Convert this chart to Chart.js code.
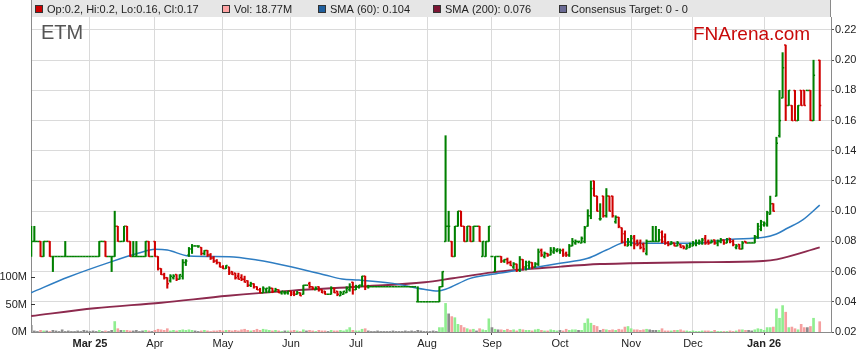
<!DOCTYPE html>
<html>
<head>
<meta charset="utf-8">
<script src="https://cdn.jsdelivr.net/npm/chart.js@4.4.1/dist/chart.umd.min.js"></script>
<style>
  html, body { margin: 0; padding: 0; background: #fff; }
  #wrap { width: 859px; height: 363px; position: relative; }
</style>
</head>
<body>
<div id="wrap"><canvas id="priceChart"></canvas></div>
<script>
// weekday index of the first bar (index 0 = first trading day of March 2025)
const firstDay = -19;

// [open, high, low, close] per weekday, null = no trading
const priceBars = [
  // -19
  [0.08,0.09,0.07,0.08],[0.08,0.09,0.08,0.08],[0.08,0.08,0.08,0.08],[0.08,0.08,0.07,0.07],[0.07,0.08,0.07,0.08],
  [0.08,0.08,0.08,0.08],[0.08,0.08,0.07,0.07],[0.07,0.07,0.06,0.07],[0.07,0.07,0.07,0.07],[0.07,0.07,0.07,0.07],
  // -9
  [0.07,0.07,0.07,0.07],[0.07,0.08,0.07,0.07],[0.07,0.07,0.07,0.07],[0.07,0.07,0.07,0.07],[0.07,0.07,0.07,0.07],
  [0.07,0.07,0.07,0.07],[0.07,0.07,0.07,0.07],[0.07,0.07,0.07,0.07],[0.07,0.07,0.07,0.07],[0.07,0.07,0.07,0.07],
  // 1
  [0.07,0.07,0.07,0.07],[0.07,0.07,0.07,0.07],[0.07,0.08,0.07,0.08],[0.08,0.08,0.08,0.08],[0.08,0.08,0.07,0.07],
  [0.07,0.07,0.07,0.07],[0.07,0.07,0.06,0.07],[0.07,0.10,0.07,0.09],[0.09,0.09,0.08,0.08],[0.08,0.08,0.08,0.08],
  // 11
  [0.08,0.09,0.08,0.09],[0.09,0.09,0.08,0.08],[0.08,0.08,0.07,0.07],[0.07,0.08,0.07,0.07],[0.07,0.08,0.07,0.07],
  [0.07,0.07,0.07,0.07],[0.07,0.07,0.07,0.07],[0.07,0.08,0.07,0.08],[0.08,0.08,0.07,0.07],[0.07,0.07,0.07,0.07],
  // 21 (Apr)
  [0.08,0.08,0.07,0.07],[0.07,0.07,0.061,0.062],[0.062,0.062,0.058,0.058],[0.058,0.059,0.055,0.056],[0.056,0.056,0.049,0.052],
  [0.054,0.058,0.053,0.057],[0.056,0.058,0.055,0.057],[0.058,0.058,0.054,0.055],[0.055,0.058,0.055,0.058],[0.057,0.068,0.055,0.066],
  // 31
  [0.066,0.068,0.064,0.067],[0.071,0.076,0.07,0.075],[0.075,0.078,0.072,0.077],[0.077,0.077,0.077,0.077],[0.077,0.077,0.076,0.077],
  [0.076,0.076,0.071,0.072],[0.072,0.074,0.071,0.074],[0.074,0.074,0.07,0.071],[0.071,0.072,0.068,0.069],[0.069,0.07,0.066,0.067],
  // 41
  [0.067,0.068,0.065,0.066],[0.066,0.066,0.063,0.063],[0.063,0.064,0.062,0.062],[0.062,0.064,0.062,0.064],[0.063,0.063,0.058,0.059],
  [0.06,0.06,0.058,0.058],[0.059,0.059,0.055,0.056],[0.057,0.059,0.055,0.055],[0.056,0.058,0.054,0.055],[0.055,0.057,0.053,0.053],
  // 51
  [0.054,0.054,0.05,0.051],[0.051,0.053,0.05,0.052],[0.052,0.052,0.049,0.05],[0.05,0.05,0.048,0.048],[0.048,0.049,0.046,0.046],
  [0.046,0.05,0.046,0.049],[0.048,0.049,0.046,0.049],[0.047,0.05,0.046,0.049],[0.049,0.049,0.046,0.047],[0.047,0.049,0.047,0.048],
  // 61
  [0.048,0.048,0.046,0.046],[0.046,0.047,0.045,0.047],[0.046,0.047,0.045,0.046],[0.046,0.047,0.045,0.047],[0.047,0.047,0.044,0.045],
  [0.046,0.047,0.044,0.045],[0.045,0.047,0.045,0.046],[0.046,0.046,0.044,0.044],[0.045,0.051,0.045,0.051],[0.051,0.051,0.051,0.051],
  // 71
  [0.052,0.053,0.049,0.05],[0.05,0.05,0.048,0.049],[0.048,0.05,0.048,0.049],[0.05,0.05,0.047,0.048],[0.048,0.048,0.046,0.046],
  [0.047,0.047,0.045,0.045],[0.045,0.045,0.045,0.045],[0.045,0.05,0.045,0.049],[0.049,0.049,0.046,0.046],[0.047,0.047,0.044,0.045],
  // 81
  [0.044,0.047,0.044,0.046],[0.045,0.047,0.045,0.047],[0.046,0.05,0.046,0.049],[0.048,0.052,0.047,0.05],[0.053,0.053,0.045,0.048],
  [0.048,0.051,0.048,0.05],[0.05,0.051,0.049,0.051],[0.051,0.057,0.05,0.057],[0.057,0.057,0.048,0.05],[0.05,0.051,0.049,0.05],
  // 91
  [0.05,0.05,0.05,0.05],[0.05,0.05,0.05,0.05],[0.05,0.05,0.05,0.05],[0.05,0.05,0.05,0.05],[0.05,0.05,0.05,0.05],
  [0.05,0.05,0.05,0.05],[0.05,0.05,0.05,0.05],[0.05,0.05,0.05,0.05],[0.05,0.05,0.05,0.05],[0.05,0.05,0.05,0.05],
  // 101
  [0.05,0.05,0.05,0.05],[0.05,0.05,0.05,0.05],[0.05,0.05,0.05,0.05],[0.05,0.05,0.05,0.05],[0.05,0.05,0.05,0.05],
  [0.04,0.05,0.04,0.04],[0.04,0.04,0.04,0.04],[0.04,0.04,0.04,0.04],[0.04,0.04,0.04,0.04],[0.04,0.04,0.04,0.04],
  // 111
  [0.04,0.04,0.04,0.04],[0.04,0.04,0.04,0.04],[0.04,0.05,0.04,0.05],[0.05,0.06,0.05,0.06],[0.08,0.15,0.08,0.09],
  [0.09,0.10,0.08,0.09],[0.08,0.08,0.07,0.07],[0.07,0.09,0.07,0.09],[0.09,0.10,0.09,0.10],[0.10,0.10,0.09,0.09],
  // 121
  [0.09,0.09,0.08,0.08],[0.08,0.09,0.08,0.09],[0.09,0.09,0.08,0.08],[0.08,0.09,0.08,0.09],[0.09,0.09,0.09,0.09],
  [0.09,0.09,0.08,0.08],[0.07,0.08,0.07,0.08],[0.07,0.08,0.07,0.08],[0.08,0.09,0.08,0.09],[0.07,0.07,0.07,0.07],
  // 131
  [0.06,0.07,0.06,0.07],[0.07,0.07,0.07,0.07],[0.07,0.07,0.066,0.067],[0.067,0.068,0.066,0.068],[0.068,0.069,0.065,0.066],
  [0.066,0.067,0.064,0.064],[0.063,0.066,0.062,0.065],[0.065,0.065,0.06,0.061],[0.061,0.07,0.06,0.068],[0.068,0.068,0.061,0.063],
  // 141
  [0.063,0.067,0.061,0.066],[0.064,0.067,0.062,0.066],[0.066,0.066,0.062,0.063],[0.063,0.066,0.063,0.065],[0.065,0.075,0.064,0.073],
  [0.074,0.075,0.07,0.071],[0.07,0.073,0.069,0.072],[0.072,0.072,0.07,0.071],[0.071,0.076,0.071,0.074],[0.073,0.076,0.072,0.075],
  // 151
  [0.074,0.075,0.073,0.075],[0.074,0.075,0.072,0.074],[0.074,0.075,0.07,0.071],[0.072,0.073,0.07,0.071],[0.071,0.078,0.07,0.077],
  [0.077,0.082,0.077,0.08],[0.079,0.081,0.078,0.08],[0.08,0.08,0.079,0.08],[0.079,0.083,0.079,0.082],[0.08,0.09,0.079,0.089],
  // 161
  [0.09,0.101,0.09,0.097],[0.097,0.12,0.095,0.115],[0.12,0.12,0.11,0.11],[0.11,0.11,0.10,0.10],[0.095,0.105,0.094,0.095],
  [0.11,0.11,0.096,0.097],[0.097,0.115,0.096,0.11],[0.11,0.11,0.10,0.10],[0.11,0.11,0.096,0.097],[0.093,0.097,0.092,0.096],
  // 171
  [0.096,0.096,0.089,0.09],[0.089,0.089,0.079,0.08],[0.085,0.087,0.077,0.078],[0.077,0.082,0.077,0.08],[0.078,0.084,0.077,0.082],
  [0.083,0.084,0.075,0.078],[0.08,0.081,0.077,0.078],[0.079,0.081,0.075,0.076],[0.078,0.079,0.073,0.075],[0.072,0.081,0.071,0.08],
  // 181
  [0.08,0.08,0.08,0.08],[0.08,0.09,0.08,0.08],[0.08,0.09,0.08,0.08],[0.08,0.088,0.08,0.081],[0.086,0.087,0.079,0.08],
  [0.083,0.085,0.078,0.079],[0.079,0.08,0.077,0.078],[0.078,0.08,0.078,0.079],[0.079,0.079,0.077,0.077],[0.077,0.08,0.077,0.079],
  // 191
  [0.078,0.078,0.076,0.076],[0.077,0.077,0.075,0.076],[0.075,0.078,0.075,0.077],[0.076,0.079,0.076,0.078],[0.077,0.08,0.077,0.079],
  [0.078,0.081,0.077,0.079],[0.079,0.081,0.078,0.08],[0.079,0.082,0.078,0.081],[0.082,0.084,0.078,0.079],[0.08,0.081,0.078,0.079],
  // 201
  [0.079,0.081,0.079,0.08],[0.081,0.081,0.078,0.079],[0.079,0.081,0.077,0.08],[0.08,0.082,0.079,0.081],[0.081,0.081,0.078,0.079],
  [0.079,0.082,0.079,0.081],[0.082,0.082,0.079,0.08],[0.08,0.081,0.077,0.078],[0.076,0.078,0.075,0.077],[0.078,0.078,0.075,0.075],
  // 211
  [0.075,0.08,0.075,0.079],[0.08,0.08,0.079,0.079],[0.079,0.079,0.079,0.079],[0.079,0.079,0.079,0.079],[0.079,0.084,0.079,0.083],
  [0.083,0.092,0.082,0.09],[0.088,0.094,0.087,0.093],[0.091,0.093,0.09,0.092],[0.091,0.10,0.09,0.099],[0.098,0.11,0.098,0.105],
  // 221
  [0.105,0.105,0.10,0.10],[0.11,0.149,0.11,0.145],[0.15,0.18,0.149,0.16],[0.175,0.205,0.175,0.195],[0.21,0.21,0.16,0.17],
  [0.17,0.18,0.17,0.18],[0.17,0.17,0.16,0.16],[0.18,0.18,0.16,0.16],[0.16,0.17,0.16,0.17],[0.18,0.18,0.17,0.17],
  // 231
  [0.18,0.18,0.17,0.17],[0.18,0.18,0.18,0.18],[0.18,0.18,0.16,0.16],[0.16,0.20,0.16,0.19],null,
  [0.20,0.20,0.16,0.17]
];

// daily volume, millions
const volumeM = [
  12,2,1,3,2,2,1,3,2,1,   4,1,2,1,1,2,1,3,2,1,
  2,1,3,1,2,1,3,19,6,3,   3,3,2,2,3,1,2,3,2,1,
  3,5,4,3,6,2,3,2,3,4,    3,4,3,2,1,2,3,2,1,2,
  2,3,2,3,3,2,3,2,4,5,    3,2,3,5,3,5,4,3,2,3,
  2,1,2,2,2,3,2,1,4,2,    3,2,1,3,2,2,1,3,2,2,
  3,2,4,8,3,2,2,5,6,2,    1,1,2,1,1,1,1,2,1,1,
  1,2,1,2,1,3,2,1,1,1,    2,1,8,8,52,33,28,26,14,12,
  8,6,4,5,2,6,4,3,24,8,   5,4,4,3,5,3,4,2,5,4,
  3,3,2,4,5,3,2,2,4,3,    2,3,2,5,3,4,4,3,3,16,
  24,16,12,10,3,5,4,3,4,3, 5,4,9,10,6,4,4,3,4,5,
  4,3,3,3,6,2,2,2,3,3,    4,2,2,1,2,1,1,2,2,2,
  1,3,1,1,1,1,2,1,2,4,    4,3,3,2,4,6,5,3,8,8,
  9,42,25,48,36,8,9,6,4,14, 8,8,10,25,null,18.77
];

const monthTickIdx = [0, 21, 43, 65, 86, 109, 130, 152, 175, 195, 218];
const monthLabels = ['Mar 25', 'Apr', 'May', 'Jun', 'Jul', 'Aug', 'Sep', 'Oct', 'Nov', 'Dec', 'Jan 26'];
const priceTicks = [0.02, 0.04, 0.06, 0.08, 0.10, 0.12, 0.14, 0.16, 0.18, 0.20, 0.22];
const volumeTicks = [0, 50, 100];

// moving averages, read at a few points along each line
const sma60Idx = [-19, -7, 7, 15.5, 21, 25, 32, 45, 54, 65, 76, 81.5, 87, 98, 108, 112.5, 115, 123, 130, 139, 152, 161, 167, 174, 176, 195, 207, 218, 222, 225.5, 230.5, 236];
const sma60 = [0.046, 0.0564, 0.0666, 0.0721, 0.0748, 0.0743, 0.0703, 0.0699, 0.0677, 0.0632, 0.0578, 0.0551, 0.0544, 0.0522, 0.0483, 0.0472, 0.0483, 0.0555, 0.0582, 0.061, 0.0655, 0.0688, 0.0743, 0.0798, 0.0787, 0.0787, 0.0814, 0.0827, 0.0849, 0.0887, 0.0942, 0.104];
const sma200Idx = [-19, 1.5, 23, 44.6, 65.3, 86.7, 108.3, 117.4, 130.3, 152.3, 165, 174.6, 195, 217.7, 222.2, 236];
const sma200 = [0.0306, 0.0357, 0.0394, 0.044, 0.0474, 0.05, 0.0529, 0.0556, 0.0595, 0.0633, 0.065, 0.0655, 0.0662, 0.067, 0.0681, 0.076];

const FONT = "'Liberation Sans', Arial, sans-serif";
const UP = '#008000';
const DOWN = '#d00000';

const bars = priceBars
  .map((b, k) => b && { d: firstDay + k, o: b[0], h: b[1], l: b[2], c: b[3], v: volumeM[k] })
  .filter(Boolean);
const barColor = b => (b.c < b.o ? DOWN : UP);
const volColor = b => (b.c > b.o ? '#90ee90' : b.c < b.o ? '#f5a0a0' : '#8c8c8c');

const last = bars[bars.length - 1];
const headerItems = [
  { x: 35, color: '#cc0000', text: `Op:${last.o}, Hi:${last.h}, Lo:${last.l}, Cl:${last.c}` },
  { x: 222, color: '#ffa4a4', text: `Vol: ${last.v.toFixed(2)}M` },
  { x: 318, color: '#1f5f9e', text: `SMA (60): ${sma60[sma60.length - 1].toFixed(3)}` },
  { x: 433, color: '#7d1634', text: `SMA (200): ${sma200[sma200.length - 1].toFixed(3)}` },
  { x: 559, color: '#6b6b95', text: 'Consensus Target: 0 - 0' }
];

// header band, legend, titles
const decorPlugin = {
  id: 'decor',
  beforeDatasetsDraw(chart) {
    const { ctx } = chart;
    ctx.save();
    ctx.textBaseline = 'alphabetic';
    ctx.font = '20px ' + FONT;
    ctx.fillStyle = '#555555';
    ctx.fillText('ETM', 41, 39);
    ctx.font = '19px ' + FONT;
    ctx.fillStyle = '#c80a0a';
    ctx.fillText('FNArena.com', 693, 40);
    ctx.restore();
  },
  afterDraw(chart) {
    const { ctx, chartArea: a } = chart;
    ctx.save();
    ctx.fillStyle = '#e6e6e6';
    ctx.fillRect(a.left, 0, a.right - a.left, a.top);
    ctx.strokeStyle = '#8a8a8a';
    ctx.lineWidth = 1;
    ctx.beginPath();
    ctx.moveTo(a.left + 0.5, 0); ctx.lineTo(a.left + 0.5, a.top);
    ctx.moveTo(a.right - 0.5, 0); ctx.lineTo(a.right - 0.5, a.top);
    ctx.stroke();

    ctx.font = '11px ' + FONT;
    ctx.textBaseline = 'middle';
    headerItems.forEach(it => {
      ctx.fillStyle = it.color;
      ctx.fillRect(it.x, 5, 8, 8);
      ctx.strokeStyle = '#333';
      ctx.strokeRect(it.x + 0.5, 5.5, 7, 7);
      ctx.fillStyle = '#222';
      ctx.fillText(it.text, it.x + 12, 9.5);
    });

    // short inward ticks on the volume axis
    const vs = chart.scales.yVol;
    ctx.strokeStyle = '#333';
    ctx.beginPath();
    volumeTicks.slice(1).forEach(v => {
      const y = Math.round(vs.getPixelForValue(v)) + 0.5;
      ctx.moveTo(a.left, y); ctx.lineTo(a.left + 4, y);
    });
    ctx.stroke();
    ctx.restore();
  }
};

new Chart(document.getElementById('priceChart'), {
  type: 'bar',
  data: {
    datasets: [
      {
        type: 'scatter', label: 'open', yAxisID: 'y', order: 1,
        data: bars.map(b => ({ x: b.d - 0.25, y: b.o })),
        pointStyle: 'line', pointRadius: 0.78, pointHoverRadius: 0.78,
        pointBorderWidth: 1.5, pointBorderColor: bars.map(barColor), showLine: false
      },
      {
        type: 'scatter', label: 'close', yAxisID: 'y', order: 1,
        data: bars.map(b => ({ x: b.d + 0.25, y: b.c })),
        pointStyle: 'line', pointRadius: 0.78, pointHoverRadius: 0.78,
        pointBorderWidth: 1.5, pointBorderColor: bars.map(barColor), showLine: false
      },
      {
        type: 'bar', label: 'range', yAxisID: 'y', order: 2, grouped: false,
        data: bars.map(b => ({ x: b.d, y: [b.l, b.h] })),
        backgroundColor: bars.map(barColor), barThickness: 1.4, borderWidth: 0
      },
      {
        type: 'line', label: 'SMA 60', yAxisID: 'y', order: 3,
        data: sma60Idx.map((d, k) => ({ x: d, y: sma60[k] })),
        borderColor: '#2e7dc2', borderWidth: 1.5, pointRadius: 0, cubicInterpolationMode: 'monotone'
      },
      {
        type: 'line', label: 'SMA 200', yAxisID: 'y', order: 4,
        data: sma200Idx.map((d, k) => ({ x: d, y: sma200[k] })),
        borderColor: '#8d2a4e', borderWidth: 1.9, pointRadius: 0, cubicInterpolationMode: 'monotone'
      },
      {
        type: 'bar', label: 'Volume', yAxisID: 'yVol', order: 5, grouped: false,
        data: bars.map(b => ({ x: b.d, y: b.v })),
        backgroundColor: bars.map(volColor), barThickness: 2, borderWidth: 0
      }
    ]
  },
  options: {
    responsive: true,
    maintainAspectRatio: false,
    animation: false,
    devicePixelRatio: 1,
    layout: { padding: { top: 17, left: 0, right: 0, bottom: 0 } },
    plugins: { legend: { display: false }, tooltip: { enabled: false } },
    scales: {
      x: {
        type: 'linear', position: 'bottom', min: -19.08, max: 239.65, offset: false,
        afterBuildTicks: s => { s.ticks = monthTickIdx.map(v => ({ value: v })); },
        afterFit: s => { s.height = 31; },
        grid: { color: '#dadada', offset: false, drawTicks: true, tickLength: 3, tickColor: '#555' },
        border: { color: '#8a8a8a' },
        ticks: {
          autoSkip: false, maxRotation: 0, padding: 2, color: '#222',
          callback: (v, i) => monthLabels[i],
          font: c => ({ family: FONT, size: 11, weight: /\d/.test(monthLabels[c.index] || '') ? 'bold' : 'normal' })
        }
      },
      y: {
        type: 'linear', position: 'right', min: 0.02, max: 0.2286,
        afterBuildTicks: s => { s.ticks = priceTicks.map(v => ({ value: v })); },
        afterFit: s => { s.width = 28; },
        grid: { color: '#dadada', drawTicks: true, tickLength: 3, tickColor: '#555' },
        border: { color: '#8a8a8a' },
        ticks: { padding: 1, color: '#222', font: { family: FONT, size: 11 }, callback: v => v.toFixed(2) }
      },
      yVol: {
        type: 'linear', position: 'left', min: 0, max: 572.7,
        afterBuildTicks: s => { s.ticks = volumeTicks.map(v => ({ value: v })); },
        afterFit: s => { s.width = 31; },
        grid: { display: false, drawTicks: false },
        border: { color: '#8a8a8a' },
        ticks: { padding: 4, color: '#222', font: { family: FONT, size: 11 }, callback: v => v + 'M' }
      }
    }
  },
  plugins: [decorPlugin]
});
</script>
</body>
</html>
